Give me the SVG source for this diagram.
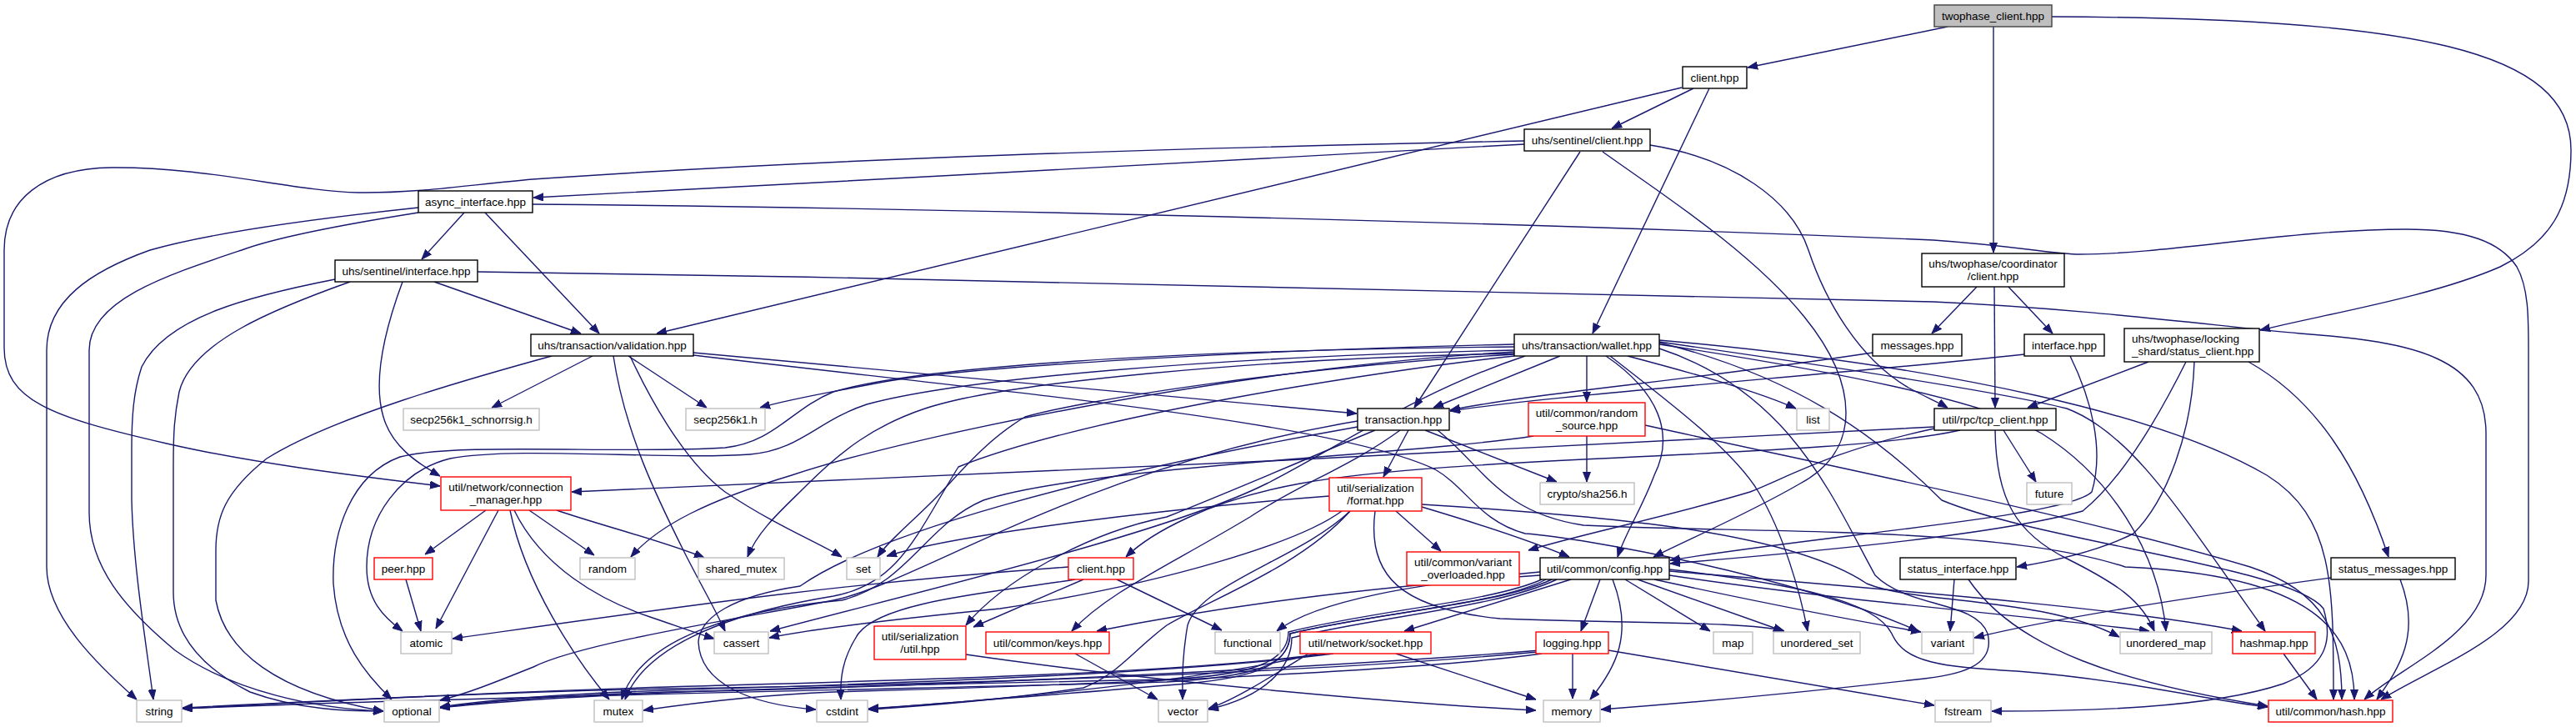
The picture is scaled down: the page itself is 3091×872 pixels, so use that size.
<svg xmlns="http://www.w3.org/2000/svg" width="3091" height="872" viewBox="0 0 3091 872">
<style>
.e path{fill:none;stroke:#191970;stroke-width:1.4;marker-end:url(#a)}
.n rect{fill:#fff;stroke-width:1.4}
.k rect{stroke:#000}
.r rect{stroke:#f00}
.g rect{stroke:#bfbfbf}
.root rect{fill:#bfbfbf;stroke:#404040}
text{font-family:"Liberation Sans",Arial,Helvetica,sans-serif;font-size:13.5px;fill:#000;text-anchor:middle}
text.s{text-anchor:start}
</style>
<defs>
<marker id="a" viewBox="0 0 12 10" refX="12" refY="5" markerWidth="12" markerHeight="10" markerUnits="userSpaceOnUse" orient="auto">
<path d="M0,0.5 L12,5 L0,9.5 z" fill="#191970" stroke="#191970" stroke-width="1"/>
</marker>
</defs>
<rect width="3091" height="872" fill="#fff"/>
<g id="edges" class="e">
<path d="M2337,32 L2097,81"/>
<path d="M2392,32 L2392,303"/>
<path d="M2462,20 C2900,22 3085,60 3085,180 C3085,250 3060,290 3000,320 C2920,355 2800,375 2712,396"/>
<path d="M2032,106 L1934,154"/>
<path d="M2018,105 L788,400"/>
<path d="M2051,106 L1911,400"/>
<path d="M1829,173 C1600,183 1000,220 640,237"/>
<path d="M1829,169 C1400,178 1000,190 639,215 C560,222 500,232 430,231 C350,229 250,200 134,201 C50,202 5,240 5,300 L5,417 C5,480 60,500 200,532 C300,555 420,570 528,583"/>
<path d="M1896,182 L1697,489"/>
<path d="M1923,182 C1990,230 2100,300 2165,380 C2230,460 2235,540 2160,580 C2100,615 2030,645 1984,668"/>
<path d="M1980,174 C2080,190 2150,240 2170,300 C2190,360 2230,430 2290,465 C2310,476 2325,482 2337,489"/>
<path d="M557,255 L506,311"/>
<path d="M582,255 L719,400"/>
<path d="M502,249 C380,262 250,280 180,300 C110,325 56,360 56,420 L56,680 C56,740 120,800 164,839"/>
<path d="M502,255 C420,268 330,285 290,300 C200,330 107,360 107,420 L107,615 C107,680 150,730 210,780 C280,830 380,850 460,853"/>
<path d="M639,245 C1200,250 1900,270 2320,288 C2420,295 2465,305 2495,305 C2600,305 2750,275 2887,275 C2960,275 3000,290 3020,320 C3034,345 3034,380 3034,420 L3034,697 C3034,760 2920,800 2857,839"/>
<path d="M521,338 L697,400"/>
<path d="M483,338 C460,400 448,460 460,500 C470,535 500,555 528,571"/>
<path d="M402,335 C300,355 200,380 170,440 C160,470 158,500 158,540 L158,600 C160,680 175,770 184,839"/>
<path d="M420,338 C330,370 230,410 215,470 C209,500 208,520 208,560 L208,710 C208,760 240,800 300,830 C360,852 420,853 460,853"/>
<path d="M573,326 C1200,335 1900,350 2320,362 C2500,370 2650,390 2760,400 C2900,410 2983,430 2983,520 L2983,690 C2983,760 2880,800 2837,839"/>
<path d="M711,427 L590,489"/>
<path d="M754,427 L848,489"/>
<path d="M832,423 L1628,496"/>
<path d="M662,427 C560,455 400,500 320,550 C270,590 259,620 259,660 L259,720 C270,780 330,830 460,853"/>
<path d="M756,427 C790,500 830,560 870,590 C930,630 980,650 1010,668"/>
<path d="M736,427 C750,520 790,600 820,660 C840,700 858,730 870,757"/>
<path d="M832,426 C1200,470 1600,505 1722,563 C1760,585 1775,625 1830,640 C1900,645 2150,690 2302,757"/>
<path d="M1872,427 L1720,489"/>
<path d="M1904,427 L1904,482"/>
<path d="M1953,427 C2040,450 2110,470 2155,490"/>
<path d="M1927,427 C1990,470 2010,520 1985,570 C1970,610 1950,640 1941,668"/>
<path d="M1932,427 C2000,480 2080,540 2110,590 C2140,640 2160,710 2169,757"/>
<path d="M1817,413 C1500,420 1150,440 1050,460 C1000,470 950,478 912,489"/>
<path d="M1817,416 C1400,420 1100,440 1000,470 C950,490 930,530 870,537 C750,545 550,530 480,548 C420,570 398,640 400,700 C405,770 440,810 470,839"/>
<path d="M1817,420 C1450,428 1150,455 1040,485 C980,505 960,540 900,545 C800,552 620,535 540,550 C480,565 440,620 440,680 C440,720 460,740 483,757"/>
<path d="M1817,422 C1500,440 1100,520 950,570 C850,600 790,630 757,668"/>
<path d="M1817,424 C1500,430 1200,460 1110,490 C1050,510 1010,540 970,580 C940,610 910,635 897,668"/>
<path d="M1817,425 C1550,440 1300,480 1230,500 C1180,530 1150,570 1120,600 C1090,630 1065,650 1053,668"/>
<path d="M1830,427 C1700,470 1600,540 1520,580 C1400,640 1100,710 924,757"/>
<path d="M1817,427 C1650,445 1300,500 1150,560 C1100,640 1080,700 1000,715 C920,728 780,760 750,839"/>
<path d="M1991,418 C2150,470 2200,600 2250,690 C2290,730 2370,720 2385,760 C2395,800 2350,810 2300,815 C2150,832 2000,845 1921,851"/>
<path d="M1991,410 C2200,440 2400,470 2480,490 C2560,520 2620,620 2718,757"/>
<path d="M1991,413 C2200,445 2380,480 2450,520 C2530,570 2590,660 2599,757"/>
<path d="M1991,408 C2350,440 2600,500 2720,570 C2800,620 2800,700 2800,839"/>
<path d="M1991,411 C2150,450 2250,520 2330,600 C2450,650 2750,680 2788,730 C2800,770 2790,800 2740,820 C2650,850 2500,853 2390,853"/>
<path d="M1690,516 L1660,572"/>
<path d="M1710,516 L1868,578"/>
<path d="M1629,505 C1300,560 1100,700 1000,720 C900,740 700,770 640,800 C590,820 560,832 528,840"/>
<path d="M1680,516 C1620,560 1560,580 1500,620 C1400,680 1330,710 1286,757"/>
<path d="M1650,516 C1580,545 1500,580 1400,620 C1300,640 1200,700 1159,750"/>
<path d="M1725,516 C1780,560 1800,615 1900,630 C2100,640 2400,630 2550,680 C2780,690 2825,760 2825,839"/>
<path d="M1629,512 C1300,570 1050,640 960,703 C880,715 840,740 838,770 C840,820 900,845 979,851"/>
<path d="M1675,613 L1729,661"/>
<path d="M1706,608 C1780,630 1840,650 1883,668"/>
<path d="M1650,613 C1640,690 1680,730 1800,742 C1950,748 2100,745 2141,757"/>
<path d="M1595,595 C1400,610 1150,640 1064,667"/>
<path d="M1610,613 C1560,650 1400,700 1200,730 C1050,745 970,755 923,765"/>
<path d="M1620,613 C1560,680 1450,720 1400,750 C1360,780 1340,810 1300,825 C1200,840 1090,848 1042,851"/>
<path d="M1620,613 C1560,670 1440,700 1425,750 C1418,790 1419,815 1419,839"/>
<path d="M1706,605 C1950,620 2150,640 2240,700 C2300,725 2450,715 2543,764"/>
<path d="M1885,695 L1685,757"/>
<path d="M1920,695 L1897,757"/>
<path d="M1935,695 C1960,760 1940,800 1908,839"/>
<path d="M1950,695 L2052,757"/>
<path d="M1965,695 L2140,757"/>
<path d="M1985,695 C2100,720 2200,740 2305,758"/>
<path d="M2003,690 C2200,720 2450,740 2579,757"/>
<path d="M2003,685 C2300,710 2550,730 2690,757"/>
<path d="M2003,683 C2150,700 2250,720 2270,760 C2285,795 2330,800 2420,805 C2550,815 2650,840 2721,848"/>
<path d="M1848,690 C1700,700 1500,720 1316,757"/>
<path d="M1848,686 C1700,700 1580,720 1532,757"/>
<path d="M1862,695 C1800,725 1650,735 1548,760 C1548,800 1500,815 1400,822 C1250,835 1100,845 1042,851"/>
<path d="M1868,695 C1800,728 1650,740 1550,765 C1550,800 1520,835 1450,851"/>
<path d="M1855,695 C1800,725 1650,735 1548,760 C1548,800 1500,812 1400,818 C1000,828 500,838 219,850"/>
<path d="M1850,695 C1790,722 1650,732 1546,758 C1546,795 1500,810 1400,815 C1000,823 700,830 528,849"/>
<path d="M1887,784 L1887,838"/>
<path d="M1930,780 L2321,846"/>
<path d="M1850,784 C1700,805 1300,822 1000,830 C900,834 820,845 772,852"/>
<path d="M1845,782 C1600,805 1200,820 800,826 C600,830 400,840 219,850"/>
<path d="M1848,780 C1600,800 1100,825 800,830 C650,835 570,843 528,849"/>
<path d="M1675,784 L1843,839"/>
<path d="M1600,784 C1400,810 1000,822 800,828 C650,833 570,842 528,848"/>
<path d="M1590,784 C1400,810 1000,818 800,824 C600,830 400,840 219,849"/>
<path d="M1580,784 C1450,815 1200,840 1042,850"/>
<path d="M1570,784 C1520,815 1480,840 1450,850"/>
<path d="M1290,784 L1389,839"/>
<path d="M1159,785 C1400,820 1700,845 1843,852"/>
<path d="M1300,695 L1168,752"/>
<path d="M1340,695 L1466,756"/>
<path d="M1282,680 C1000,700 800,730 543,766"/>
<path d="M1290,695 C1200,710 1060,720 1030,760 C1010,790 1008,815 1009,839"/>
<path d="M2321,512 C1800,540 1200,570 686,590"/>
<path d="M2404,516 L2443,578"/>
<path d="M2352,516 C2200,550 1750,545 1560,580 C1450,600 1380,640 1351,668"/>
<path d="M2321,514 C2200,540 2150,570 2100,590 C2000,620 1900,640 1834,660"/>
<path d="M2394,516 C2395,600 2420,640 2480,670 C2540,700 2570,720 2585,757"/>
<path d="M2372,344 L2318,400"/>
<path d="M2410,344 L2463,400"/>
<path d="M2393,344 L2394,489"/>
<path d="M2247,423 C2000,460 1850,470 1740,492"/>
<path d="M2429,425 C2200,450 1900,470 1740,493"/>
<path d="M2484,427 C2510,480 2525,540 2510,590 C2480,620 2200,640 2004,672"/>
<path d="M2578,434 L2433,489"/>
<path d="M2633,434 C2630,520 2600,600 2560,640 C2520,660 2470,672 2420,680"/>
<path d="M2698,434 C2780,480 2830,560 2866,668"/>
<path d="M2623,434 C2580,520 2540,580 2499,613 C2400,640 2200,660 2004,676"/>
<path d="M2345,695 L2340,757"/>
<path d="M2362,695 C2420,780 2550,820 2721,847"/>
<path d="M2797,693 C2600,720 2450,745 2369,765"/>
<path d="M2880,695 C2905,760 2880,800 2852,839"/>
<path d="M2740,784 L2780,839"/>
<path d="M1904,523 L1904,578"/>
<path d="M1840,523 C1700,545 1300,560 1180,600 C1110,630 1090,700 1010,720 C900,730 770,760 746,839"/>
<path d="M1974,510 C2200,560 2500,620 2700,680 C2790,710 2810,760 2810,839"/>
<path d="M583,612 L510,665"/>
<path d="M598,612 L523,754"/>
<path d="M635,612 L713,666"/>
<path d="M612,612 C630,700 690,790 731,839"/>
<path d="M668,612 C720,630 800,650 845,669"/>
<path d="M617,612 C650,680 720,720 780,740 C810,750 830,758 857,766"/>
<path d="M487,695 L505,757"/>
</g>
<g id="n0" class="n root"><rect x="2321" y="6" width="141" height="26"/><text x="2391.5" y="23.5">twophase_client.hpp</text></g>
<g id="n1" class="n k"><rect x="2019" y="80" width="77" height="26"/><text x="2057.5" y="97.5">client.hpp</text></g>
<g id="n2" class="n k"><rect x="1829" y="155" width="151" height="26"/><text x="1904.5" y="172.5">uhs/sentinel/client.hpp</text></g>
<g id="n3" class="n k"><rect x="502" y="229" width="137" height="26"/><text x="570.5" y="246.5">async_interface.hpp</text></g>
<g id="n4" class="n k"><rect x="402" y="312" width="171" height="26"/><text x="487.5" y="329.5">uhs/sentinel/interface.hpp</text></g>
<g id="n5" class="n k"><rect x="637" y="401" width="195" height="26"/><text x="734.5" y="418.5">uhs/transaction/validation.hpp</text></g>
<g id="n6" class="n k"><rect x="1817" y="401" width="174" height="26"/><text x="1904" y="418.5">uhs/transaction/wallet.hpp</text></g>
<g id="n7" class="n k"><rect x="2306" y="304" width="171" height="40"/><text x="2391.5" y="320.5">uhs/twophase/coordinator</text><text x="2391.5" y="335.5">/client.hpp</text></g>
<g id="n8" class="n k"><rect x="2247" y="401" width="107" height="26"/><text x="2300.5" y="418.5">messages.hpp</text></g>
<g id="n9" class="n k"><rect x="2429" y="401" width="96" height="26"/><text x="2477" y="418.5">interface.hpp</text></g>
<g id="n10" class="n k"><rect x="2549" y="394" width="162" height="40"/><text class="s" x="2558" y="410.5">uhs/twophase/locking</text><text class="s" x="2558" y="425.5">_shard/status_client.hpp</text></g>
<g id="n11" class="n g"><rect x="484" y="490" width="163" height="26"/><text x="565.5" y="507.5">secp256k1_schnorrsig.h</text></g>
<g id="n12" class="n g"><rect x="823" y="490" width="95" height="26"/><text x="870.5" y="507.5">secp256k1.h</text></g>
<g id="n13" class="n k"><rect x="1629" y="490" width="110" height="26"/><text x="1684" y="507.5">transaction.hpp</text></g>
<g id="n14" class="n r"><rect x="1834" y="483" width="140" height="40"/><text x="1904" y="499.5">util/common/random</text><text x="1904" y="514.5">_source.hpp</text></g>
<g id="n15" class="n g"><rect x="2156" y="490" width="39" height="26"/><text x="2175.5" y="507.5">list</text></g>
<g id="n16" class="n k"><rect x="2321" y="490" width="146" height="26"/><text x="2394" y="507.5">util/rpc/tcp_client.hpp</text></g>
<g id="n17" class="n r"><rect x="529" y="572" width="156" height="40"/><text x="607" y="588.5">util/network/connection</text><text x="607" y="603.5">_manager.hpp</text></g>
<g id="n18" class="n r"><rect x="1595" y="573" width="111" height="40"/><text x="1650.5" y="589.5">util/serialization</text><text x="1650.5" y="604.5">/format.hpp</text></g>
<g id="n19" class="n g"><rect x="1848" y="579" width="113" height="26"/><text x="1904.5" y="596.5">crypto/sha256.h</text></g>
<g id="n20" class="n g"><rect x="2432" y="579" width="54" height="26"/><text x="2459" y="596.5">future</text></g>
<g id="n21" class="n r"><rect x="449" y="669" width="70" height="26"/><text x="484" y="686.5">peer.hpp</text></g>
<g id="n22" class="n g"><rect x="696" y="669" width="66" height="26"/><text x="729" y="686.5">random</text></g>
<g id="n23" class="n g"><rect x="838" y="669" width="103" height="26"/><text x="889.5" y="686.5">shared_mutex</text></g>
<g id="n24" class="n g"><rect x="1016" y="669" width="40" height="26"/><text x="1036" y="686.5">set</text></g>
<g id="n25" class="n r"><rect x="1282" y="669" width="78" height="26"/><text x="1321" y="686.5">client.hpp</text></g>
<g id="n26" class="n r"><rect x="1688" y="662" width="135" height="40"/><text x="1755.5" y="678.5">util/common/variant</text><text x="1755.5" y="693.5">_overloaded.hpp</text></g>
<g id="n27" class="n k"><rect x="1848" y="669" width="155" height="26"/><text x="1925.5" y="686.5">util/common/config.hpp</text></g>
<g id="n28" class="n k"><rect x="2280" y="669" width="139" height="26"/><text x="2349.5" y="686.5">status_interface.hpp</text></g>
<g id="n29" class="n k"><rect x="2797" y="669" width="149" height="26"/><text x="2871.5" y="686.5">status_messages.hpp</text></g>
<g id="n30" class="n g"><rect x="481" y="758" width="61" height="26"/><text x="511.5" y="775.5">atomic</text></g>
<g id="n31" class="n g"><rect x="857" y="758" width="65" height="26"/><text x="889.5" y="775.5">cassert</text></g>
<g id="n32" class="n r"><rect x="1049" y="751" width="110" height="40"/><text x="1104" y="767.5">util/serialization</text><text x="1104" y="782.5">/util.hpp</text></g>
<g id="n33" class="n r"><rect x="1183" y="758" width="148" height="26"/><text x="1257" y="775.5">util/common/keys.hpp</text></g>
<g id="n34" class="n g"><rect x="1458" y="758" width="78" height="26"/><text x="1497" y="775.5">functional</text></g>
<g id="n35" class="n r"><rect x="1560" y="758" width="157" height="26"/><text x="1638.5" y="775.5">util/network/socket.hpp</text></g>
<g id="n36" class="n r"><rect x="1843" y="758" width="87" height="26"/><text x="1886.5" y="775.5">logging.hpp</text></g>
<g id="n37" class="n g"><rect x="2056" y="758" width="47" height="26"/><text x="2079.5" y="775.5">map</text></g>
<g id="n38" class="n g"><rect x="2128" y="758" width="104" height="26"/><text x="2180" y="775.5">unordered_set</text></g>
<g id="n39" class="n g"><rect x="2306" y="758" width="62" height="26"/><text x="2337" y="775.5">variant</text></g>
<g id="n40" class="n g"><rect x="2544" y="758" width="110" height="26"/><text x="2599" y="775.5">unordered_map</text></g>
<g id="n41" class="n r"><rect x="2679" y="758" width="99" height="26"/><text x="2728.5" y="775.5">hashmap.hpp</text></g>
<g id="n42" class="n g"><rect x="164" y="840" width="54" height="26"/><text x="191" y="857.5">string</text></g>
<g id="n43" class="n g"><rect x="461" y="840" width="66" height="26"/><text x="494" y="857.5">optional</text></g>
<g id="n44" class="n g"><rect x="713" y="840" width="58" height="26"/><text x="742" y="857.5">mutex</text></g>
<g id="n45" class="n g"><rect x="980" y="840" width="61" height="26"/><text x="1010.5" y="857.5">cstdint</text></g>
<g id="n46" class="n g"><rect x="1390" y="840" width="59" height="26"/><text x="1419.5" y="857.5">vector</text></g>
<g id="n47" class="n g"><rect x="1852" y="840" width="68" height="26"/><text x="1886" y="857.5">memory</text></g>
<g id="n48" class="n g"><rect x="2322" y="840" width="67" height="26"/><text x="2355.5" y="857.5">fstream</text></g>
<g id="n49" class="n r"><rect x="2722" y="840" width="149" height="26"/><text x="2796.5" y="857.5">util/common/hash.hpp</text></g>
</svg>
